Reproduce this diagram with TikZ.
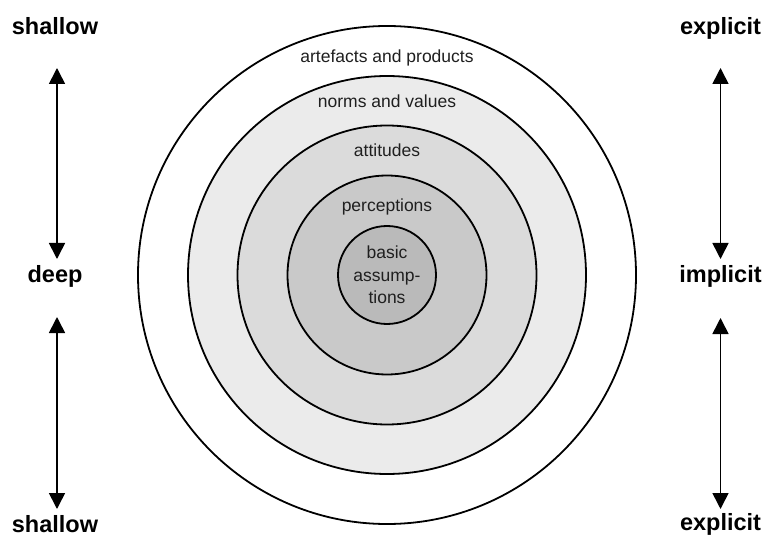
\documentclass[tikz,border=0pt]{standalone}
\usepackage{fontspec}
\setmainfont{Liberation Sans}
\usetikzlibrary{arrows.meta}
\begin{document}
\begin{tikzpicture}[x=1bp,y=-1bp,
  ring/.style={draw=black,line width=1.8bp},
  layertext/.style={anchor=base,inner sep=0pt,text=black!88,font=\fontsize{17.5bp}{22bp}\selectfont},
  scalelabel/.style={anchor=base,inner sep=0pt,font=\fontsize{23.5bp}{27bp}\selectfont\bfseries},
  scalearrow/.style={line width=1.6bp,{Triangle[width=16bp,length=16bp]}-{Triangle[width=16bp,length=16bp]}}
]
\useasboundingbox (0,0) rectangle (767,536);
\coordinate (c) at (387,275);

% concentric layers, outermost first
\filldraw[ring,fill=white]     (c) circle[radius=249];
\filldraw[ring,fill=black!8]   (c) circle[radius=199];
\filldraw[ring,fill=black!14]  (c) circle[radius=149.5];
\filldraw[ring,fill=black!21]  (c) circle[radius=99.5];
\filldraw[ring,fill=black!27]  (c) circle[radius=49];

% layer names
\node[layertext] (artefacts) at (387,63)  {artefacts and products};
\node[layertext] (norms)     at (387,108) {norms and values};
\node[layertext] (attitudes) at (387,157) {attitudes};
\node[layertext] (percept)   at (387,212) {perceptions};
\node[layertext] (basic1)    at (387,259) {basic};
\node[layertext] (basic2)    at (387,281.5) {assump-};
\node[layertext] (basic3)    at (387,304) {tions};

% depth scale on the left
\node[scalelabel] (shallowT) at (55,35)  {shallow};
\node[scalelabel] (deep)     at (55,283) {deep};
\node[scalelabel] (shallowB) at (55,532) {shallow};

% visibility scale on the right
\node[scalelabel] (explicitT) at (720.5,35)  {explicit};
\node[scalelabel] (implicit)  at (720.5,283) {implicit};
\node[scalelabel] (explicitB) at (720.5,530) {explicit};

% double-headed arrows between the labels
\coordinate (la1) at (57,68);  \coordinate (la2) at (57,259);
\coordinate (la3) at (57,317); \coordinate (la4) at (57,509);
\coordinate (ra1) at (720.5,68);  \coordinate (ra2) at (720.5,259);
\coordinate (ra3) at (720.5,318); \coordinate (ra4) at (720.5,509);
\draw[scalearrow] (la1) -- (la2);
\draw[scalearrow] (la3) -- (la4);
\draw[scalearrow] (ra1) -- (ra2);
\draw[scalearrow] (ra3) -- (ra4);
\end{tikzpicture}
\end{document}
